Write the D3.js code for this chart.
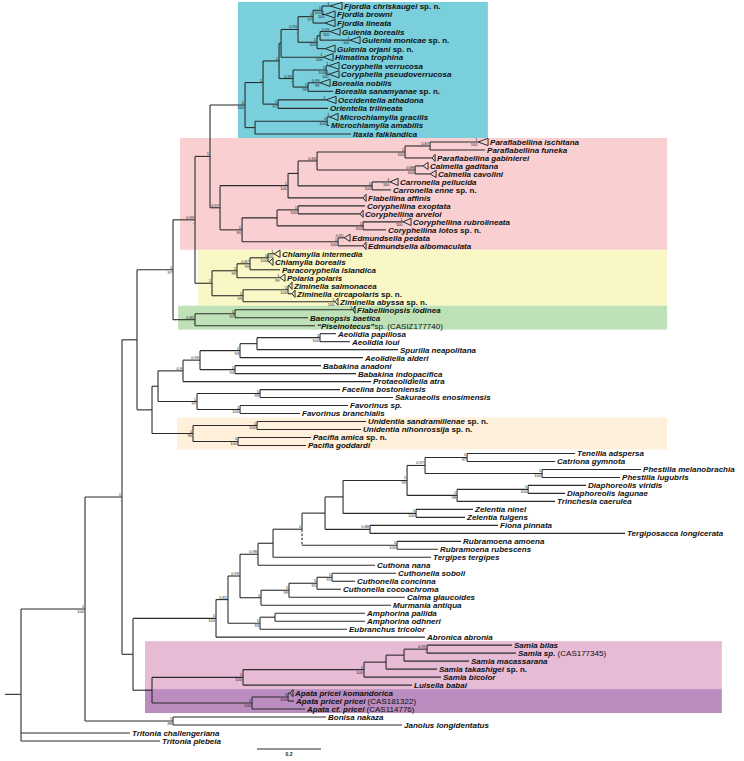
<!DOCTYPE html>
<html><head><meta charset="utf-8">
<script src="https://cdn.jsdelivr.net/npm/d3@7"></script>
<style>html,body{margin:0;padding:0;background:#fff;}svg{display:block;}</style>
</head><body><svg id="chart" width="744" height="761"></svg>
<script>
// ---------------- DATA ----------------
// Clades in Newick notation: branch lengths in substitutions/site, internal labels = posterior/bootstrap
const cladeCoryphellidae = `((((((('Fjordia chriskaugei sp. n.':0.025,'Fjordia browni':0.0094)'1/100':0.0281,'Fjordia lineata':0.0375)'1/97':0.0469,(('Gulenia borealis':0.0313,'Gulenia monicae sp. n.':0.0938):0.0094,'Gulenia orjani sp. n.':0.025)'1/100':0.0594)'0.93/-':0.0531,'Himatina trophina':0.1313):0.0063,(('Coryphella verrucosa':0.0094,'Coryphella pseudoverrucosa':0.0094)'1/100':0.1031,('Borealia nobilis':0.0375,'Borealia sanamyanae sp. n.':0.0781)'1/99':0.0469)'0.99/-':0.0438)'1/-':0.05,('Occidentella athadona':0.15,'Orientella trilineata':0.1563)'1/97':0.0469)'1/-':0.0563,(('Microchlamylla gracilis':0.0094,'Microchlamylla amabilis':0.0063)'1/100':0.225,'Itaxia falklandica':0.3):0.0313)'1/100'`;
const cladeFlabellinidae = `(((((('Paraflabellina ischitana':0.15,'Paraflabellina funeka':0.1719)'0.87/-':0.0781,'Paraflabellina gabinierei':0.0844)'1/100':0.275,('Calmella gaditana':0.025,'Calmella cavolini':0.0469)'0.88/100':0.3063)'0.84/-':0.0594,('Carronella pellucida':0.0563,'Carronella enne sp. n.':0.0594)'1/100':0.2313):0.0313,'Flabellina affinis':0.2344)'1/100':0.2125,((('Coryphellina exoptata':0.2094,'Coryphellina arveloi':0.1938)'1/100':0.0656,('Coryphellina rubrolineata':0.125,'Coryphellina lotos sp. n.':0.0719)'1/100':0.2688):0.1094,('Edmundsella pedata':0.0188,'Edmundsella albomaculata':0.0781)'1/100':0.3)'1/90':0.0688)'0.97/-'`;
const cladeParacoryphellidae = `(((('Chlamylla intermedia':0.0188,'Chlamylla borealis':0.0031)'1/100':0.0563,'Paracoryphella islandica':0.0938)'0.87/99':0.0406,'Polaria polaris':0.1344)'1/99':0.0781,(('Ziminella salmonacea':0.0031,'Ziminella circapolaris sp. n.':0.0125)'1/100':0.1406,'Ziminella abyssa sp. n.':0.2875)'1/99':0.0969)'1/-'`;
const cladeFlabellinopsidae = `(('Flabellinopsis iodinea':0.3688,'Baenopsis baetica':0.2281)'1/97':0.125,'“Piseinotecus”sp. (CASIZ177740)':0.375)'0.85/-'`;
const cladeAeolidida = `((((((('Aeolidia papillosa':0.05,'Aeolidia loui':0.0938)'1/100':0.1969,'Spurilla neapolitana':0.4406):0.0531,'Aeolidiella alderi':0.3844)'1/93':0.125,('Babakina anadoni':0.2688,'Babakina indopacifica':0.3781)'1/94':0.1094)'0.99/-':0.0531,'Protaeolidiella atra':0.5875)'0.9/-':0.0781,(('Facelina bostoniensis':0.25,'Sakuraeolis enosimensis':0.4156)'1/99':0.1969,('Favorinus sp.':0.3375,'Favorinus branchialis':0.1875)'1/100':0.1344)'1/97':0.1219):0.0188,(('Unidentia sandramillenae sp. n.':0.3406,'Unidentia nihonrossija sp. n.':0.325)'1/100':0.2,('Pacifia amica sp. n.':0.2281,'Pacifia goddardi':0.2125)'1/100':0.1406)'1/96':0.1281)`;
const cladeFionoidea = `(((((((((((('Tenellia adspersa':0.3375,'Catriona gymnota':0.275)'1/97':0.1313,('Phestilla melanobrachia':0.3094,'Phestilla lugubris':0.2438)'1/100':0.3656)'0.97/-':0.0563,(('Diaphoreolis viridis':0.1813,'Diaphoreolis lagunae':0.1156)'1/100':0.2219,'Trinchesia caerulea':0.3063)'1/98':0.1563)'1/99':0.2,('Zelentia ninel':0.1781,'Zelentia fulgens':0.1531)'1/100':0.2281):0.0563,('Fiona pinnata':0.4,'Tergiposacca longicerata':0.7969)'0.88/-':0.1406):0.0719,('Rubramoena amoena':0.2,'Rubramoena rubescens':0.1281)'1/100':0.2969)'1/-':0.0906,'Tergipes tergipes':0.4938):0.0469,'Cuthona nana':0.3656)'0.98/-':0.0563,(((('Cuthonella soboli':0.2,'Cuthonella concinna':0.0719)'1/91':0.0469,'Cuthonella cocoachroma':0.075)'1/91':0.0875,'Calma glaucoides':0.3625)'1/99':0.0875,'Murmania antiqua':0.4063)'1/-':0.0656)'0.99/-':0.0375,(('Amphorina pallida':0.2813,'Amphorina odhneri':0.2813):0.0469,'Eubranchus tricolor':0.2719)'1/93':0.1)'0.81/-':0.0375,'Abronica abronia':0.6531)'1/100':0.2594,(((((('Samla bilas':0.2656,'Samla sp. (CAS177345)':0.2781)'0.99/-':0.0719,'Samla macassarana':0.2031):0.0563,'Samla takashigei sp. n.':0.1594):0.0688,'Samla bicolor':0.2406)'1/100':0.3781,'Luisella babai':0.5281)'1/100':0.2844,(('Apata pricei komandorica':0.0063,'Apata pricei pricei (CAS181322)':0.0188)'1/100':0.1125,'Apata cf. pricei (CAS114776)':0.1656)'1/100':0.3125):0.0594)`;
const treeNewick = `(((((((${cladeCoryphellidae}:0.1094,${cladeFlabellinidae}:0.0313)'1/-':0.0469,${cladeParacoryphellidae}:0.0531)'0.99/-':0.0688,${cladeFlabellinopsidae}:0.0688)'1/97':0.1125,${cladeAeolidida}:0.0469):0.0469,${cladeFionoidea}:0.0344)'1/-':0.1156,('Bonisa nakaza':0.4781,'Janolus longidentatus':0.7156)'1/88':0.275)'1/100':0.2,'Tritonia challengeriana':0.3406,'Tritonia plebeia':0.4344);`;

// Collapsed clades (triangles): depth of collapsed clade, substitutions/site
const collapsedNames = ['Fjordia chriskaugei sp. n.','Fjordia browni','Fjordia lineata','Gulenia borealis','Gulenia monicae sp. n.','Gulenia orjani sp. n.','Himatina trophina','Coryphella verrucosa','Coryphella pseudoverrucosa','Borealia nobilis','Occidentella athadona','Microchlamylla gracilis','Paraflabellina ischitana','Paraflabellina gabinierei','Calmella gaditana','Calmella cavolini','Carronella pellucida','Flabellina affinis','Coryphellina arveloi','Coryphellina rubrolineata','Edmundsella pedata','Edmundsella albomaculata','Chlamylla intermedia','Chlamylla borealis','Polaria polaris','Ziminella salmonacea','Ziminella circapolaris sp. n.','Ziminella abyssa sp. n.','Flabellinopsis iodinea','Apata pricei komandorica'];
const collapsedDepths = [0.0375,0.0313,0.0313,0.0313,0.0313,0.0313,0.0313,0.0313,0.0313,0.0313,0.0313,0.025,0.0313,0.0094,0.0156,0.0188,0.025,0.0094,0.0094,0.025,0.0188,0.0094,0.0188,0.0125,0.0156,0.0094,0.0094,0.0094,0.0063,0.0094];
const collapsedSupport = ['1','1/100','','0.99/100','1/100','','1/100','1','1/100','0.99/99','1','1','1/100','','','','1/100','','','1/100','0.95/-','','1/100','','1/99','','','1/100','1',''];

// Highlighted families: first leaf, last leaf
const groupNames = ['Coryphellidae','Flabellinidae','Paracoryphellidae','Flabellinopsidae','Unidentiidae','Samlidae','Apatidae'];
const groupFirst = ['Fjordia chriskaugei sp. n.','Paraflabellina ischitana','Chlamylla intermedia','Flabellinopsis iodinea','Unidentia sandramillenae sp. n.','Samla bilas','Apata pricei komandorica'];
const groupLast  = ['Itaxia falklandica','Edmundsella albomaculata','Ziminella abyssa sp. n.','“Piseinotecus”sp. (CASIZ177740)','Pacifia goddardi','Luisella babai','Apata cf. pricei (CAS114776)'];
// group extent along the distance axis (substitutions/site from root)
const groupFrom = [0.678,0.497,0.553,0.491,0.4875,0.3875,0.3875];
const groupTo   = [1.459,2.019,2.019,2.019,2.019,2.19,2.19];
const dashedClade = ['Rubramoena amoena','Rubramoena rubescens'];
const scaleBarLength = 0.2;
const scaleBarStart = 0.7375;
const rootStem = 0.05;

// ---------------- STYLE ----------------
const groupColors = ['#79CFDC','#F9CFD2','#FAF7C6','#BFE1B7','#FEF0DA','#E7BAD6','#BA8CBF'];
const lineColor = '#2b2b2b';

// ---------------- PARSER ----------------
function parseNewick(s){
  let i = 0;
  const ws = () => { while (i < s.length && /\s/.test(s[i])) i++; };
  function node(){
    ws();
    const n = {children: []};
    if (s[i] === '('){
      i++;
      n.children.push(node()); ws();
      while (s[i] === ','){ i++; n.children.push(node()); ws(); }
      i++; // ')'
    }
    ws();
    if (s[i] === "'"){ i++; const j = s.indexOf("'", i); n.label = s.slice(i, j); i = j + 1; }
    ws();
    if (s[i] === ':'){ i++; const m = /^[0-9.eE+-]+/.exec(s.slice(i)); n.length = +m[0]; i += m[0].length; }
    ws();
    return n;
  }
  return node();
}

// ---------------- LAYOUT ----------------
const root = d3.hierarchy(parseNewick(treeNewick), d => d.children.length ? d.children : null);
root.each(d => { d.dist = d.parent ? d.parent.dist + (d.data.length || 0) : 0; });
const leaves = root.leaves();

const x = d3.scaleLinear().domain([0, 1]).range([21, 341]);
const y = d3.scaleLinear().domain([0, 15, leaves.length - 1]).range([6, 134, 741]);

leaves.forEach((l, i) => { l.idx = i; l.py = y(i); });
root.eachAfter(d => { if (d.children) d.py = d3.mean(d.children, c => c.py); });
root.each(d => { d.px = x(d.dist); });

const leafIndex = new Map(leaves.map(l => [l.data.label, l.idx]));
const leafNode = new Map(leaves.map(l => [l.data.label, l]));
const collapsed = new Map(collapsedNames.map((n, i) => [n, {depth: collapsedDepths[i], sup: collapsedSupport[i]}]));

const svg = d3.select('#chart');

// group boxes
groupNames.forEach((g, k) => {
  const i0 = leafIndex.get(groupFirst[k]), i1 = leafIndex.get(groupLast[k]);
  const top = y(i0) - (i0 > 0 ? (y(i0) - y(i0 - 1)) / 2 : 4);
  const bot = y(i1) + (i1 < leaves.length - 1 ? (y(i1 + 1) - y(i1)) / 2 : 4);
  svg.append('rect')
    .attr('x', x(groupFrom[k])).attr('y', top)
    .attr('width', x(groupTo[k]) - x(groupFrom[k])).attr('height', bot - top)
    .attr('fill', groupColors[k]);
});

const gLines = svg.append('g').attr('stroke', lineColor).attr('stroke-width', 1.1).attr('fill', 'none');

// dashed clade
const dashNode = leafNode.get(dashedClade[0]).ancestors().find(a => a.leaves().some(l => l.data.label === dashedClade[1]));

// root stem
gLines.append('line').attr('x1', x(-rootStem)).attr('x2', root.px).attr('y1', root.py).attr('y2', root.py);

root.descendants().forEach(d => {
  if (d.parent){
    gLines.append('line').attr('x1', d.parent.px).attr('x2', d.px).attr('y1', d.py).attr('y2', d.py);
  }
  if (d.children){
    const ys = d.children.map(c => c.py);
    const y0 = d3.min(ys), y1 = d3.max(ys);
    const dashChild = d.children.find(c => c === dashNode);
    if (dashChild){
      const other = d.children.find(c => c !== dashNode);
      gLines.append('line').attr('x1', d.px).attr('x2', d.px).attr('y1', other.py).attr('y2', d.py);
      gLines.append('line').attr('x1', d.px).attr('x2', d.px).attr('y1', d.py).attr('y2', dashChild.py)
        .attr('stroke-dasharray', '2.5,1.8');
    } else {
      gLines.append('line').attr('x1', d.px).attr('x2', d.px).attr('y1', y0).attr('y2', y1);
    }
  }
});

// support labels
const gSup = svg.append('g').attr('font-family', 'Liberation Sans, Arial, sans-serif')
  .attr('font-size', 4).attr('fill', '#222').attr('text-anchor', 'end');
function supportAt(xp, yp, lab){
  if (!lab) return;
  const parts = lab.split('/');
  gSup.append('text').attr('x', xp - 1).attr('y', yp - 1).text(parts[0]);
  if (parts[1] !== undefined) gSup.append('text').attr('x', xp - 1).attr('y', yp + 3.9).text(parts[1]);
}
root.descendants().forEach(d => { if (d.children && d.data.label) supportAt(d.px, d.py, d.data.label); });

// collapsed triangles + tip labels
const gTri = svg.append('g').attr('stroke', lineColor).attr('stroke-width', 1).attr('fill', 'none');
const gLab = svg.append('g').attr('font-family', 'Liberation Sans, Arial, sans-serif')
  .attr('font-size', 8).attr('fill', '#111');

function addLabel(t, name){
  const re = /(sp\. n\.|\(CAS[A-Z0-9]*\))/;
  let parts;
  if (name.startsWith('“')) {
    parts = [['“Piseinotecus”', 'i'], [name.replace('“Piseinotecus”', ''), 'n']];
  } else {
    parts = name.split(re).filter(p => p.length).map(p => [p, /^sp\. n\.$/.test(p) ? 'b' : (/^\(CAS/.test(p) ? 'n' : 'i')]);
  }
  parts.forEach(([txt, st]) => {
    t.append('tspan').text(txt)
      .attr('font-style', st === 'i' ? 'italic' : 'normal')
      .attr('font-weight', st === 'n' ? 'normal' : 'bold');
  });
}

leaves.forEach(l => {
  const name = l.data.label;
  const c = collapsed.get(name);
  let lx = l.px + 2;
  if (c){
    const w = x(c.depth) - x(0);
    gTri.append('path').attr('d', `M${l.px},${l.py}L${l.px + w},${l.py - 3.6}L${l.px + w},${l.py + 3.6}Z`);
    lx = l.px + w + 2;
    supportAt(l.px + 0.5, l.py, c.sup);
  }
  const t = gLab.append('text').attr('x', lx).attr('y', l.py + 2.9);
  addLabel(t, name);
});

// scale bar
const sbY = y(leaves.length - 1) + 8;
svg.append('line').attr('x1', x(scaleBarStart)).attr('x2', x(scaleBarStart + scaleBarLength))
  .attr('y1', sbY).attr('y2', sbY).attr('stroke', lineColor).attr('stroke-width', 1.1);
svg.append('text').attr('x', (x(scaleBarStart) + x(scaleBarStart + scaleBarLength)) / 2).attr('y', sbY + 7)
  .attr('text-anchor', 'middle').attr('font-family', 'Liberation Sans, Arial, sans-serif')
  .attr('font-size', 5).attr('font-weight', 'bold').attr('fill', '#222').text(scaleBarLength);
</script>
</body></html>
